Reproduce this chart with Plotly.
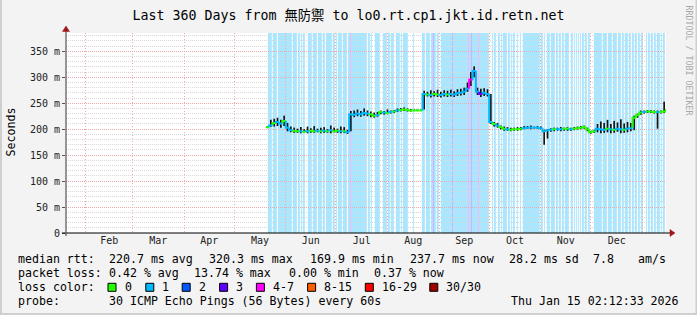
import plotly.graph_objects as go
from datetime import datetime, timedelta

# ---------------- data ----------------
TITLE = "Last 360 Days from 無防禦 to lo0.rt.cp1.jkt.id.retn.net"
END_TIME = datetime(2026, 1, 15, 2, 12, 33)
SPAN_DAYS = 360

# median rtt / smoke, one sample every 2 days starting 2025-05-20 (ms)
SAMPLE_START = datetime(2025, 5, 20)
SAMPLE_STEP_DAYS = 2
MEDIAN_MS = [
    204, 207, 212, 214, 211, 216, 203, 198,
    197, 196, 196, 195, 196, 197, 196, 197, 196, 197, 196, 198, 196, 197, 196, 196, 194,
    229, 228, 230, 229, 231, 230, 229, 226, 227,
    233, 232, 231, 233, 234,
    236, 237, 238, 237, 236, 236, 236, 236,
    268, 267, 266, 268, 267, 266, 268, 267, 268, 267, 269, 270, 272, 278, 295, 312, 272, 268, 270, 268,
    214, 210, 207, 204, 201, 200, 199, 200, 200, 201, 202, 203, 203, 203, 203, 202, 196, 198, 199,
    200, 200, 200, 201, 201, 200, 201, 202, 203, 204, 200, 194, 196,
    201, 200, 199, 201, 200, 199, 201, 200, 199, 201, 202,
    222, 227, 232, 233, 234, 234, 233, 233, 233, 234, 237,
]
SMOKE_HI_MS = [
    206, 218, 220, 222, 218, 226, 212, 205,
    203, 201, 204, 200, 205, 202, 206, 201, 203, 204, 200, 207, 203, 201, 205, 204, 199,
    235, 236, 238, 235, 240, 236, 234, 232, 233,
    236, 235, 238, 236, 237,
    240, 241, 242, 240, 239, 238, 238, 238,
    274, 272, 275, 273, 276, 272, 275, 274, 276, 273, 277, 278, 280, 290, 310, 321, 280, 278, 279, 277,
    268, 214, 212, 207, 205, 204, 203, 203, 204, 204, 206, 206, 207, 205, 206, 205, 199, 200, 202,
    203, 203, 204, 203, 204, 203, 204, 205, 206, 207, 203, 197, 199,
    210, 215, 212, 218, 210, 216, 213, 219, 211, 214, 212,
    226, 230, 236, 236, 237, 237, 236, 236, 236, 253, 240,
]
SMOKE_LO_MS = [
    202, 204, 205, 206, 203, 206, 196, 194,
    193, 193, 192, 194, 192, 193, 193, 194, 192, 193, 193, 192, 194, 193, 192, 193, 191,
    196, 223, 225, 224, 226, 225, 223, 222, 224,
    229, 228, 229, 230, 231,
    233, 234, 235, 234, 234, 235, 235, 235,
    238, 263, 261, 263, 262, 261, 263, 262, 263, 262, 264, 265, 266, 272, 283, 300, 266, 262, 264, 263,
    210, 205, 203, 200, 197, 197, 196, 197, 197, 198, 200, 201, 200, 201, 201, 200, 170, 182, 195,
    196, 197, 196, 197, 197, 197, 198, 199, 200, 201, 196, 191, 193,
    194, 192, 193, 194, 192, 193, 195, 192, 193, 194, 196,
    198, 222, 228, 230, 231, 231, 230, 201, 230, 231, 234,
]
LOSS_CLASS = [
    0, 1, 0, 1, 1, 0, 1, 1,
    0, 0, 1, 0, 1, 0, 0, 1, 0, 1, 0, 1, 0, 0, 1, 0, 1,
    1, 1, 1, 1, 1, 1, 0, 0, 1,
    0, 1, 0, 1, 0,
    1, 0, 0, 0, 0, 0, 0, 0,
    1, 0, 1, 0, 0, 1, 1, 0, 1, 1, 1, 1, 1, 1, 4, 1, 1, 3, 1, 1,
    1, 0, 1, 0, 0, 1, 0, 0, 0, 0, 1, 1, 1, 1, 1, 1, 1, 1, 1,
    0, 1, 1, 0, 0, 1, 0, 0, 0, 0, 0, 0, 0,
    1, 1, 1, 0, 1, 0, 1, 1, 0, 1, 1,
    0, 0, 0, 1, 0, 0, 0, 1, 0, 0, 0,
]

LOSS_LABELS = ["0", "1", "2", "3", "4-7", "8-15", "16-29", "30/30"]
LOSS_COLORS = ["#26ff00", "#00b8ff", "#0059ff", "#5e00ff", "#ff00ff", "#ff5e00", "#ff0000", "#a00000"]

# loss background per 14.4 h step, run-length coded: "." none, b = 1, l = 3, p = 4-7
BG_START = datetime(2025, 5, 20)
BG_STEP_HOURS = 14.4
BG_RUNS = ("2. 4b 1. 4b 1. 14b 1. 4b 1. 2b 1. 1b 1. 2b 3. 4b 1. 4b 1. 4b 1. 2b 1. 6b 1. 2b 1. 1b 1. "
           "4b 1. 4b 1. 2b 1p 16b 1. 2b 1. 1b 3. 5b 3. 4b 1. 2b 1. 3b 2. 4b 1. 1b 1. 5b 5. 1b 8. "
           "3b 1. 4b 1. 2b 1l 2b 1. 2b 2. 11b 1l 15b 1p 2b 1l 6b 1p 10b 3. 1b 1. 2b 2. 2b 1. 1b 1. "
           "4b 1. 2b 1. 1b 1. 2b 2. 1b 2. 1b 2. 17b 1. 2b 1. 1b 2. 3b 1. 4b 1. 2b 1. 2b 1. 2b 1. "
           "4b 2. 2b 1. 1b 1. 1b 1. 1b 1. 1b 1. 2b 1. 2b 1. 2b 4. 8b 1. 4b 1. 4b 1. 4b 1. 3b 1. "
           "2b 1. 3b 1. 2b 1. 2b 1. 2b 1. 2b 1. 2b 3. 1b 1. 2b 1. 2b 1. 2b 1. 3b 1. 1b 1. 2b 1.")
BG_CODE = {"b": 1, "l": 3, "p": 4}

Y_TICKS = [0, 50, 100, 150, 200, 250, 300, 350]
Y_TICK_TEXT = ["0", "50 m", "100 m", "150 m", "200 m", "250 m", "300 m", "350 m"]
Y_MAX = 385.3

RTT_STATS = ["220.7 ms avg", "320.3 ms max", "169.9 ms min", "237.7 ms now", "28.2 ms sd", "7.8", "am/s"]
LOSS_STATS = ["0.42 % avg", "13.74 % max", "0.00 % min", "0.37 % now"]
PROBE = "30 ICMP Echo Pings (56 Bytes) every 60s"
STAMP = "Thu Jan 15 02:12:33 2026"

# ---------------- layout geometry ----------------
W, H = 697, 315
L, R, T, B = 66, 666, 33, 233
MONO = "DejaVu Sans Mono, Noto Sans CJK SC, monospace"


def px(x, y):
    return (x - L) / (R - L), (B - y) / (B - T)


def rgba(hex_color, a):
    h = hex_color.lstrip("#")
    return "rgba(%d,%d,%d,%.2f)" % (int(h[0:2], 16), int(h[2:4], 16), int(h[4:6], 16), a)


start_time = END_TIME - timedelta(days=SPAN_DAYS)
times = [SAMPLE_START + timedelta(days=SAMPLE_STEP_DAYS * i) for i in range(len(MEDIAN_MS))]
step = timedelta(days=SAMPLE_STEP_DAYS)

fig = go.Figure()

# loss background shapes
shapes = []
pos = 0
bstep = timedelta(hours=BG_STEP_HOURS)
for tok in BG_RUNS.split():
    n, c = int(tok[:-1]), tok[-1]
    if c in BG_CODE:
        shapes.append(dict(type="rect", xref="x", yref="y domain",
                           x0=BG_START + bstep * pos, x1=BG_START + bstep * (pos + n),
                           y0=0, y1=1, layer="below", line=dict(width=0),
                           fillcolor=rgba(LOSS_COLORS[BG_CODE[c]], 0.34)))
    pos += n

# smoke
sx, sy = [], []
for t, lo, hi in zip(times, SMOKE_LO_MS, SMOKE_HI_MS):
    tm = t + step / 2
    sx += [tm, tm, None]
    sy += [lo, hi, None]
fig.add_trace(go.Scatter(x=sx, y=sy, mode="lines", line=dict(color="#151515", width=1.7),
                         hoverinfo="skip", showlegend=False))

# median line coloured by loss
for k, col in enumerate(LOSS_COLORS):
    lx, ly = [], []
    for i, (t, m) in enumerate(zip(times, MEDIAN_MS)):
        if LOSS_CLASS[i] != k:
            continue
        prev = MEDIAN_MS[i - 1] if i > 0 else m
        lx += [t, t, t + step, None]
        ly += [prev, m, m, None]
    if lx:
        fig.add_trace(go.Scatter(x=lx, y=ly, mode="lines", line=dict(color=col, width=2),
                                 hoverinfo="skip", showlegend=False))

# axis lines and arrows
shapes.append(dict(type="line", xref="paper", yref="paper", x0=px(62, 0)[0], x1=px(671, 0)[0],
                   y0=0, y1=0, line=dict(color="#000000", width=1.2), layer="above"))
shapes.append(dict(type="line", xref="paper", yref="paper", x0=0, x1=0, y0=px(0, 236)[1],
                   y1=px(0, 31)[1], line=dict(color="#555555", width=1.2), layer="above"))
ax0, ay0 = px(670, 229.5)
ax1, ay1 = px(675, 233)
ax2, ay2 = px(670, 236.5)
shapes.append(dict(type="path", xref="paper", yref="paper",
                   path="M %f %f L %f %f L %f %f Z" % (ax0, ay0, ax1, ay1, ax2, ay2),
                   fillcolor="#a01515", line=dict(color="#a01515", width=0.5), layer="above"))
bx0, by0 = px(62.5, 31.5)
bx1, by1 = px(66, 26)
bx2, by2 = px(69.5, 31.5)
shapes.append(dict(type="path", xref="paper", yref="paper",
                   path="M %f %f L %f %f L %f %f Z" % (bx0, by0, bx1, by1, bx2, by2),
                   fillcolor="#a01515", line=dict(color="#a01515", width=0.5), layer="above"))

# image frame
for (x0, y0, x1, y1) in [(0, 0, 2, 315), (695.5, 0, 697, 315), (0, 313, 697, 315)]:
    p0 = px(x0, y0)
    p1 = px(x1, y1)
    shapes.append(dict(type="rect", xref="paper", yref="paper", x0=p0[0], y0=p0[1], x1=p1[0], y1=p1[1],
                       fillcolor="#cfcfcf", line=dict(width=0), layer="below"))

annotations = []


def text(x, y, s, size=11.6, anchor="left", color="#000000", angle=0, family=MONO):
    xp, yp = px(x, y)
    annotations.append(dict(x=xp, y=yp, xref="paper", yref="paper", text=s, showarrow=False,
                            xanchor=anchor, yanchor="middle", textangle=angle,
                            font=dict(family=family, size=size, color=color)))


ROW_Y = [259.3, 273.3, 287.3, 301.0]
text(16, ROW_Y[0], "median rtt:")
for xs, s in zip([107.1, 207.1, 307.6, 407.6, 507.1, 591.1, 635.6], RTT_STATS):
    text(xs, ROW_Y[0], s)
text(16, ROW_Y[1], "packet loss:")
for xs, s in zip([107.1, 192.0, 286.7, 372.4], LOSS_STATS):
    text(xs, ROW_Y[1], s)
text(16, ROW_Y[2], "loss color:")
box_x = [108.0, 145.8, 182.2, 219.6, 256.4, 307.6, 365.3, 429.8]
for bx, lab, col in zip(box_x, LOSS_LABELS, LOSS_COLORS):
    p0 = px(bx, ROW_Y[2] - 4)
    p1 = px(bx + 8, ROW_Y[2] + 4)
    shapes.append(dict(type="rect", xref="paper", yref="paper", x0=p0[0], y0=p0[1], x1=p1[0], y1=p1[1],
                       fillcolor=col, line=dict(color="#000000", width=1), layer="above"))
    text(bx + 14.6, ROW_Y[2], lab)
text(16, ROW_Y[3], "probe:")
text(107.1, ROW_Y[3], PROBE)
text(681, ROW_Y[3], STAMP, anchor="right")

text(10.5, 132, "Seconds", angle=-90, anchor="center")
text(688.5, 60, "RRDTOOL / TOBI OETIKER", size=8.3, color="#a8a8a8", angle=90, anchor="center")

fig.update_layout(
    width=W, height=H,
    margin=dict(l=L, r=W - R, t=T, b=H - B, pad=0),
    paper_bgcolor="#f3f3f3", plot_bgcolor="#ffffff",
    title=dict(text=TITLE, x=348.5 / W, xref="container", xanchor="center",
               y=1 - 15 / H, yref="container", yanchor="middle",
               font=dict(family=MONO, size=13.3, color="#000000")),
    shapes=shapes, annotations=annotations, showlegend=False,
    xaxis=dict(type="date", range=[start_time, END_TIME], dtick="M1", tick0="2025-02-01",
               ticklabelmode="period", tickformat="%b", showgrid=True, gridcolor="#f0a8a8",
               griddash="1px,2px", gridwidth=1, zeroline=False, showline=False, ticks="",
               tickfont=dict(family=MONO, size=10, color="#222222"), fixedrange=True),
    yaxis=dict(range=[0, Y_MAX], tickvals=Y_TICKS, ticktext=Y_TICK_TEXT, showgrid=True,
               gridcolor="#eeaaaa", griddash="1px,1px", gridwidth=1, zeroline=False, showline=False,
               ticks="outside", ticklen=3, tickcolor="#555555",
               tickfont=dict(family=MONO, size=10, color="#222222"),
               minor=dict(dtick=10, showgrid=True, gridcolor="#d8d8d8", griddash="1px,1px", ticks=""),
               fixedrange=True),
)

fig.write_html("out.html", config={"displayModeBar": False})
